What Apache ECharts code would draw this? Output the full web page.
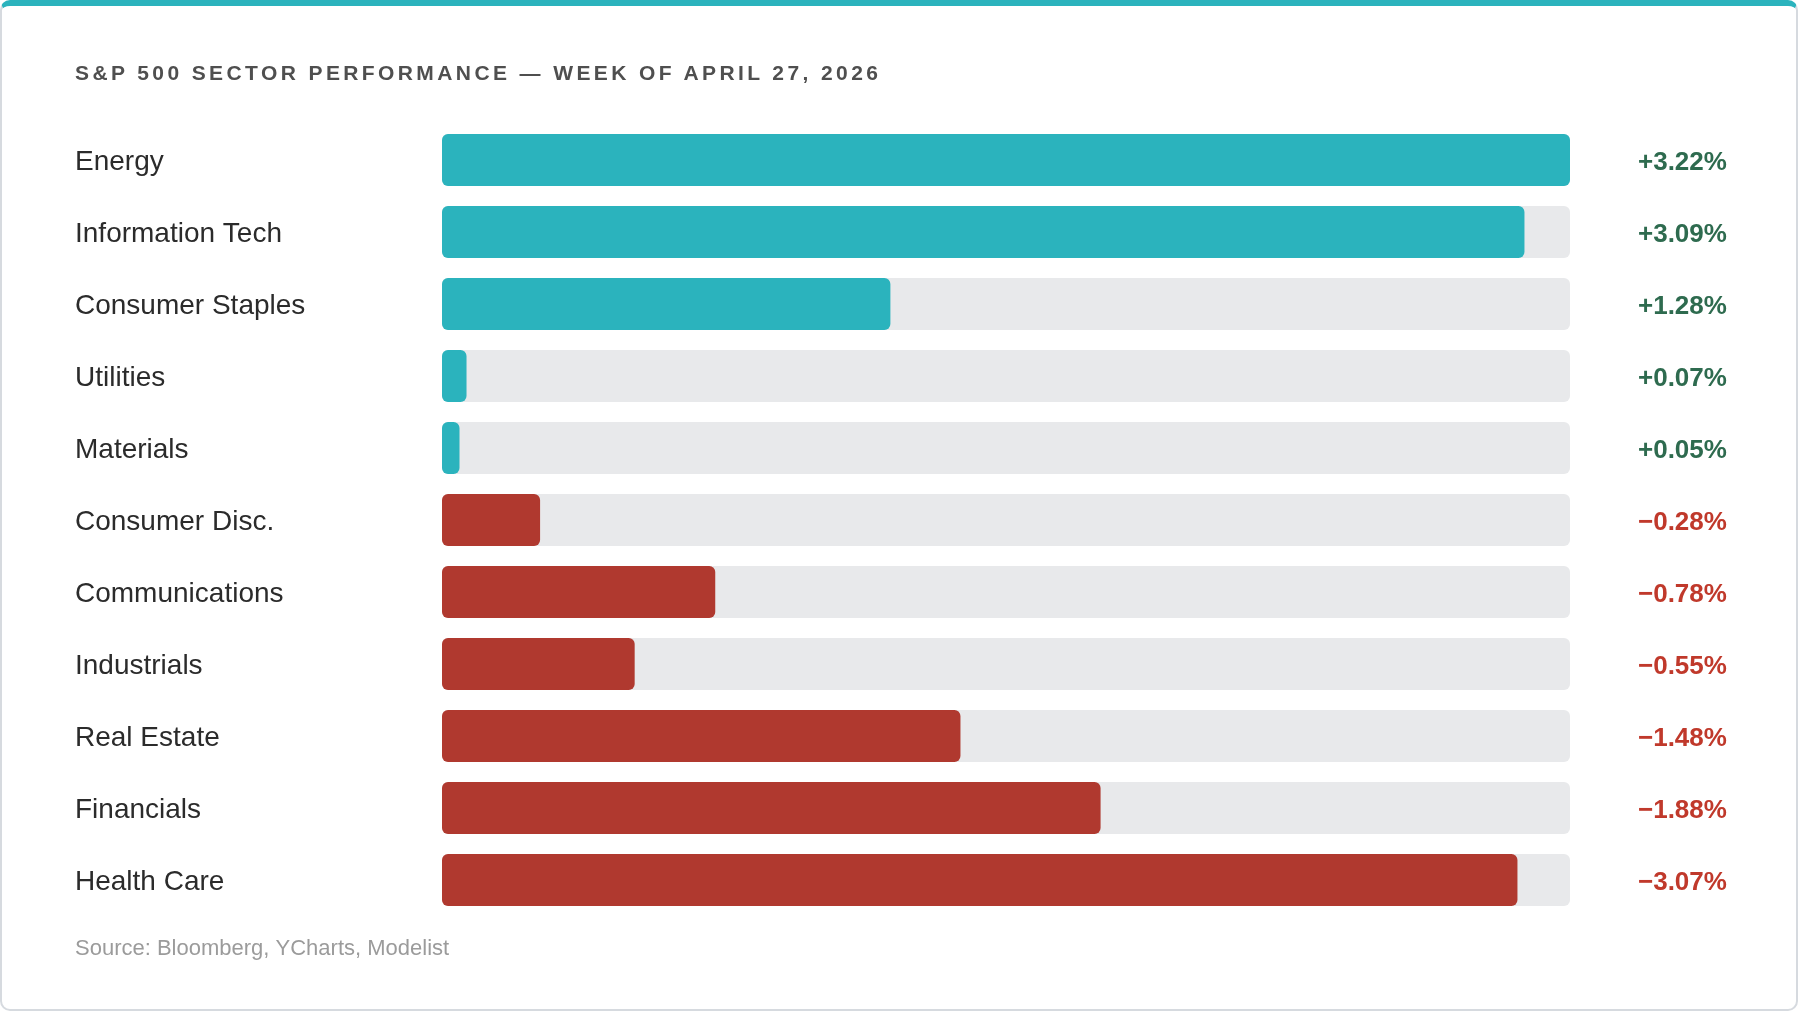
<!DOCTYPE html>
<html>
<head>
<meta charset="utf-8">
<script src="https://cdn.jsdelivr.net/npm/echarts@6/dist/echarts.min.js"></script>
<style>
  html, body { margin: 0; padding: 0; background: #ffffff; }
  #card {
    position: absolute; left: 0; top: 0; width: 1798px; height: 1011px;
    box-sizing: border-box; border: 2px solid #d6dadf; border-top: 6px solid #2bb3bd;
    border-radius: 10px; background: #ffffff;
  }
  #title {
    position: absolute; left: 75px; top: 62px; font-family: "Liberation Sans", Arial, sans-serif;
    font-size: 21px; line-height: 21px; font-weight: bold; letter-spacing: 3.4px; color: #4f4f4f;
    white-space: nowrap;
  }
  #chart { position: absolute; left: 0; top: 0; width: 1800px; height: 1012px; }
</style>
</head>
<body>
<div id="card"></div>
<div id="chart"></div>
<div id="title">S&amp;P 500 SECTOR PERFORMANCE — WEEK OF APRIL 27, 2026</div>
<script>
const titleText = 'S&P 500 SECTOR PERFORMANCE — WEEK OF APRIL 27, 2026';
const sourceText = 'Source: Bloomberg, YCharts, Modelist';
const categories = ['Energy', 'Information Tech', 'Consumer Staples', 'Utilities', 'Materials',
  'Consumer Disc.', 'Communications', 'Industrials', 'Real Estate', 'Financials', 'Health Care'];
const values = [3.22, 3.09, 1.28, 0.07, 0.05, -0.28, -0.78, -0.55, -1.48, -1.88, -3.07];

const POS_BAR = '#2bb3bd', NEG_BAR = '#b0392f', TRACK = '#e8e9eb';
const POS_TXT = '#2e6b4f', NEG_TXT = '#c0392b';
const FONT = '"Liberation Sans", Arial, sans-serif';

const scaleMax = Math.max(...values.map(v => Math.abs(v)));
const fmt = v => (v >= 0 ? '+' : '\u2212') + Math.abs(v).toFixed(2) + '%';

const chart = echarts.init(document.getElementById('chart'), null, { renderer: 'canvas' });
chart.setOption({
  animation: false,
  backgroundColor: 'transparent',
  grid: { left: 442, right: 230, top: 124, bottom: 96, containLabel: false },
  xAxis: { type: 'value', min: 0, max: scaleMax, show: false },
  yAxis: {
    type: 'category', data: categories, inverse: true,
    axisLine: { show: false }, axisTick: { show: false }, splitLine: { show: false },
    axisLabel: { align: 'left', margin: 367,
      formatter: v => '{a|' + v + '}',
      rich: { a: { fontFamily: FONT, fontSize: 28, color: '#2b2b2b', padding: [5, 0, 0, 0] } } }
  },
  graphic: [{
    type: 'text', left: 75, top: 938,
    style: { text: sourceText, fontFamily: FONT, fontSize: 22, fill: '#9b9b9b' }
  }],
  series: [
    {
      type: 'bar', silent: true, barWidth: 52, barGap: '-100%',
      data: categories.map((c, i) => ({
        value: scaleMax,
        label: { color: values[i] >= 0 ? POS_TXT : NEG_TXT }
      })),
      itemStyle: { color: TRACK, borderRadius: 6 },
      label: {
        show: true, position: 'right', distance: 68, align: 'left', offset: [0, 2.5],
        fontFamily: FONT, fontSize: 26, fontWeight: 'bold',
        formatter: p => fmt(values[p.dataIndex])
      },
      z: 1
    },
    {
      type: 'bar', silent: true, barWidth: 52, barGap: '-100%',
      data: values.map(v => ({
        value: Math.abs(v),
        itemStyle: { color: v >= 0 ? POS_BAR : NEG_BAR }
      })),
      itemStyle: { borderRadius: 6 },
      z: 2
    }
  ]
});
</script>
</body>
</html>
